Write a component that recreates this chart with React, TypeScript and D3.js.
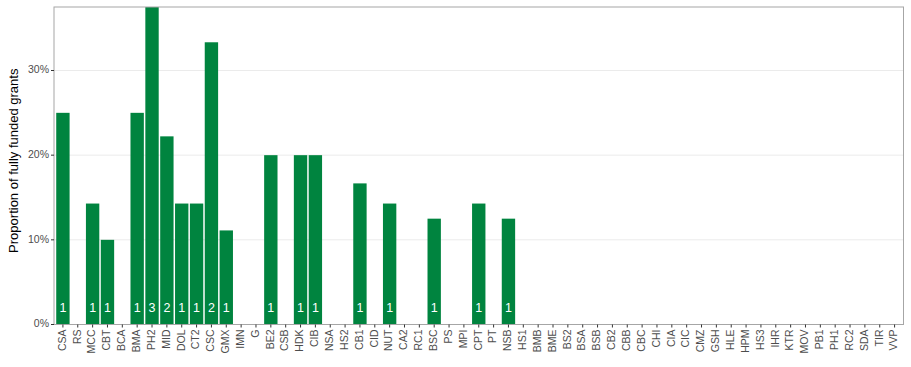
import React from "react";
import * as d3 from "d3";

const WIDTH = 911;
const HEIGHT = 367;
const MARGIN = { top: 7, right: 7.5, bottom: 42.5, left: 54 };
const GREEN = "#00843f";

const categories = [
  "CSA", "RS", "MCC", "CBT", "BCA", "BMA", "PH2", "MID", "DOL", "CT2",
  "CSC", "GMX", "IMN", "G", "BE2", "CSB", "HDK", "CIB", "NSA", "HS2",
  "CB1", "CID", "NUT", "CA2", "RC1", "BSC", "PS", "MPI", "CPT", "PT",
  "NSB", "HS1", "BMB", "BME", "BS2", "BSA", "BSB", "CB2", "CBB", "CBC",
  "CHI", "CIA", "CIC", "CMZ", "GSH", "HLE", "HPM", "HS3", "IHR", "KTR",
  "MOV", "PB1", "PH1", "RC2", "SDA", "TIR", "VVP",
];

// proportion of fully funded grants (0 where no bar)
const proportions = [
  0.25, 0, 1 / 7, 0.1, 0, 0.25, 0.375, 2 / 9, 1 / 7, 1 / 7,
  1 / 3, 1 / 9, 0, 0, 0.2, 0, 0.2, 0.2, 0, 0,
  1 / 6, 0, 1 / 7, 0, 0, 0.125, 0, 0, 1 / 7, 0,
  0.125, 0, 0, 0, 0, 0, 0, 0, 0, 0,
  0, 0, 0, 0, 0, 0, 0, 0, 0, 0,
  0, 0, 0, 0, 0, 0, 0,
];

// number of fully funded grants shown in the bars
const counts = [
  1, 0, 1, 1, 0, 1, 3, 2, 1, 1,
  2, 1, 0, 0, 1, 0, 1, 1, 0, 0,
  1, 0, 1, 0, 0, 1, 0, 0, 1, 0,
  1, 0, 0, 0, 0, 0, 0, 0, 0, 0,
  0, 0, 0, 0, 0, 0, 0, 0, 0, 0,
  0, 0, 0, 0, 0, 0, 0,
];

const yTicks = [0, 0.1, 0.2, 0.3];

export default function App() {
  const innerW = WIDTH - MARGIN.left - MARGIN.right;
  const innerH = HEIGHT - MARGIN.top - MARGIN.bottom;

  // ggplot-style discrete expansion of 0.6 units on each side
  const step = innerW / (categories.length + 0.2);
  const xScale = d3
    .scaleBand()
    .domain(categories)
    .range([0.1 * step, innerW - 0.1 * step])
    .paddingInner(0.1)
    .paddingOuter(0.05);

  const yScale = d3.scaleLinear().domain([0, 0.375]).range([innerH, 0]);
  const fmt = d3.format(".0%");

  const data = categories.map((c, i) => ({
    category: c,
    value: proportions[i],
    count: counts[i],
  }));

  return (
    <svg
      width={WIDTH}
      height={HEIGHT}
      style={{ position: "absolute", left: 0, top: 0 }}
      fontFamily="'Liberation Sans', Arial, sans-serif"
    >
      <defs>
        <clipPath id="panel">
          <rect width={innerW} height={innerH} />
        </clipPath>
      </defs>
      <g transform={`translate(${MARGIN.left},${MARGIN.top})`}>
        {yTicks.map((t) => (
          <line
            key={t}
            x1={0}
            x2={innerW}
            y1={yScale(t)}
            y2={yScale(t)}
            stroke="#ebebeb"
            strokeWidth={1}
          />
        ))}
        <g clipPath="url(#panel)">
          {data.map((d) =>
            d.value > 0 ? (
              <rect
                key={d.category}
                x={xScale(d.category) ?? 0}
                y={yScale(d.value)}
                width={xScale.bandwidth()}
                height={innerH - yScale(d.value)}
                fill={GREEN}
              />
            ) : null
          )}
        </g>
        {data.map((d) =>
          d.count > 0 ? (
            <text
              key={d.category}
              x={(xScale(d.category) ?? 0) + xScale.bandwidth() / 2}
              y={innerH - 16}
              textAnchor="middle"
              dominantBaseline="middle"
              fontSize={12.5}
              fill="#ffffff"
            >
              {d.count}
            </text>
          ) : null
        )}
        <rect
          width={innerW}
          height={innerH}
          fill="none"
          stroke="#a6a6a6"
          strokeWidth={1}
        />
        {yTicks.map((t) => (
          <g key={t} transform={`translate(0,${yScale(t)})`}>
            <line x1={-3} x2={0} stroke="#333333" />
            <text
              x={-5}
              dominantBaseline="middle"
              textAnchor="end"
              fontSize={10.5}
              fill="#4d4d4d"
            >
              {fmt(t)}
            </text>
          </g>
        ))}
        {categories.map((c) => {
          const x = (xScale(c) ?? 0) + xScale.bandwidth() / 2;
          return (
            <g key={c} transform={`translate(${x},${innerH})`}>
              <line y1={0} y2={3} stroke="#333333" />
              <text
                transform="translate(0,5) rotate(-90)"
                textAnchor="end"
                dominantBaseline="middle"
                fontSize={10.5}
                fill="#4d4d4d"
              >
                {c}
              </text>
            </g>
          );
        })}
        <text
          transform={`translate(${-36},${innerH / 2 - 5}) rotate(-90)`}
          textAnchor="middle"
          fontSize={13}
          fill="#000000"
        >
          Proportion of fully funded grants
        </text>
      </g>
    </svg>
  );
}
